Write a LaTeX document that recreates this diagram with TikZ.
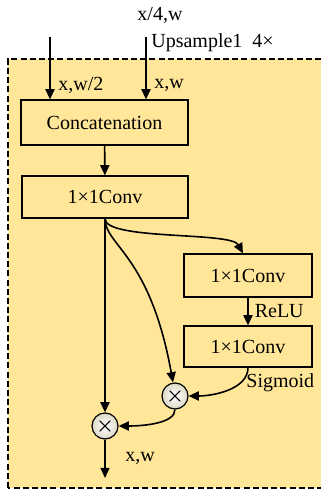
\documentclass[tikz,border=0pt]{standalone}
\usepackage{fontspec}
\setmainfont{Liberation Serif}
\usetikzlibrary{arrows.meta,backgrounds,positioning}
\definecolor{panel}{RGB}{255,230,153}
\definecolor{ballrim}{RGB}{222,218,200}

\begin{document}
\begin{tikzpicture}[
  x=0.5pt,y=0.5pt,
  blk/.style={rectangle,draw,line width=0.6pt,fill=panel,inner sep=0pt,font=\normalsize},
  mul/.style={circle,draw,line width=0.6pt,inner color=white,outer color=ballrim,inner sep=0pt,minimum size=13pt,font=\normalsize\boldmath},
  arr/.style={line width=0.8pt,-{Triangle[length=1.8mm,width=1.6mm]}},
  lbl/.style={font=\normalsize,inner sep=0pt}
]
  \clip (0,0) rectangle (321,489);
  \draw[dash pattern=on 3pt off 1.6pt,line width=0.6pt,fill=panel] (8,1) rectangle (330,430);

  \node[blk,minimum width=83.5pt,minimum height=22.5pt] (concat) at (104.5,366.5) {Concatenation};
  \node[blk,minimum width=83pt,minimum height=21pt]     (convA)  at (105,292)     {1×1Conv};
  \node[blk,minimum width=64pt,minimum height=21.5pt]   (convB)  at (248,213.5)   {1×1Conv};
  \node[blk,minimum width=64pt,minimum height=20.5pt]   (convC)  at (248,142.5)   {1×1Conv};
  \node[mul] (mulA) at (175,93) {$\times$};
  \node[mul] (mulB) at (105,63) {$\times$};

  \coordinate (in1) at (50,452);
  \coordinate (in2) at (146,452);
  \coordinate (out) at (105,11);

  \draw[arr] (in1) -- (in1 |- concat.north);
  \draw[arr] (in2) -- (in2 |- concat.north);
  \draw[arr] (concat) -- (convA);
  \draw[arr] (convA.south) -- (mulB);
  \draw[arr] (convA.south) .. controls +(0,-22) and +(-12,22) .. ([xshift=-2.5pt]convB.north);
  \draw[arr] (convA.south) .. controls +(0,-27) and +(-23,128) .. ([xshift=-1pt]mulA.north);
  \draw[arr] (convB) -- node[lbl,right=3pt]{ReLU} (convC);
  \draw[arr] (convC.south) .. controls +(0,-22) and +(24,0) .. (mulA.east);
  \draw[arr] (mulA.south) .. controls +(0,-14) and +(24,0) .. (mulB.east);
  \draw[arr] (mulB) -- (out);

  \node[lbl] (dimUp)  at (160,474) {x/4,w};
  \node[lbl,anchor=west] (upLbl) at (151,446) {Upsample1\ \ 4×};
  \node[lbl,anchor=west] (dimA) at (58,404) {x,w/2};
  \node[lbl,anchor=west] (dimB) at (154,404) {x,w};
  \node[lbl,anchor=west] (sigLbl) at (246,106) {Sigmoid};
  \node[lbl] (dimOut) at (140,31) {x,w};
\end{tikzpicture}
\end{document}
